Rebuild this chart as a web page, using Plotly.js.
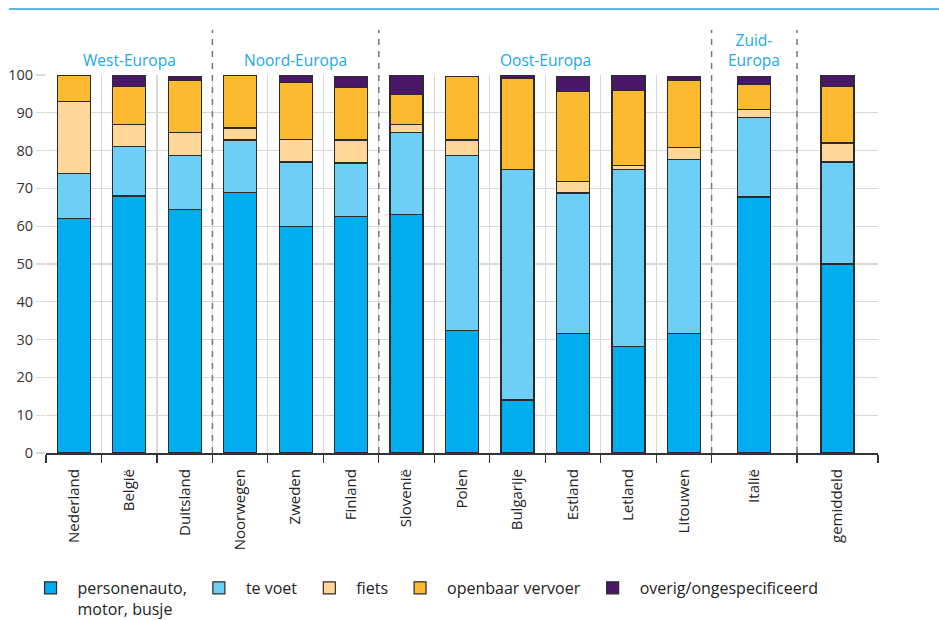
<!DOCTYPE html>
<html>
<head>
<meta charset="utf-8">
<script src="https://cdn.plot.ly/plotly-3.0.1.min.js"></script>
<style>html,body{margin:0;padding:0;background:#fff}#chart{width:939px;height:620px}</style>
</head>
<body>
<div id="chart"></div>
<script>
// ---- data ----
const countries = ['Nederland','België','Duitsland','Noorwegen','Zweden','Finland','Slovenië','Polen','Bulgarije','Estland','Letland','Litouwen','Italië','gemiddeld'];
const auto   = [62, 68, 64.5, 69, 60, 62.6, 63, 32.5, 14, 31.7, 28.1, 31.7, 67.7, 50];
const voet   = [12, 13, 14.3, 13.8, 17, 14.1, 21.8, 46.3, 61, 37.1, 46.8, 46, 21, 27];
const fiets  = [19, 6, 5.9, 3.2, 6, 6.1, 2.2, 4, 0, 3, 1.1, 3.1, 2.1, 5];
const ov     = [7, 10, 13.9, 14, 15, 13.8, 7.8, 16.8, 24, 23.8, 19.9, 17.8, 6.8, 15];
const overig = [0, 3, 1.1, 0, 2, 3.1, 5.2, 0, 1, 4.1, 4.1, 1.1, 2.1, 3];
const seriesNames = ['personenauto,<br>motor, busje','te voet','fiets','openbaar vervoer','overig/ongespecificeerd'];
const regions = ['West-Europa','Noord-Europa','Oost-Europa','Zuid-<br>Europa'];
const regionSizes = [3, 3, 6, 1];

// ---- layout helpers (slot widths along the x axis) ----
const slotWidths = [1,1,1,1,1,1,1,1,1,1,1,1,1.54,1.46];
const bounds = [-0.5];
slotWidths.forEach(w => bounds.push(bounds[bounds.length-1] + w));
const centers = slotWidths.map((w,i) => (bounds[i] + bounds[i+1]) / 2);

const colors = ['#00adee','#6dcff6','#ffd899','#fbba2f','#4a1668'];
const series = [auto, voet, fiets, ov, overig];

const traces = series.map((vals, k) => ({
  type: 'bar', x: centers, y: vals, name: seriesNames[k],
  width: 0.595,
  marker: {color: colors[k], line: {color: '#2b2b2b', width: 1.2}},
  hoverinfo: 'y+name'
}));
// invisible helper trace carrying the category labels axis
traces.push({type:'scatter', x: centers, y: centers.map(()=>0), xaxis:'x2', mode:'none', showlegend:false, hoverinfo:'skip'});

// separators and region labels
const shapes = [{type:'line', xref:'paper', yref:'paper', x0:-0.0445, x1:1.08, y0:1.1746, y1:1.1746, line:{color:'#62b5e5', width:2}}];
const annotations = [];
let start = 0;
regions.forEach((r, gi) => {
  const end = start + regionSizes[gi];
  const cx = (bounds[start] + bounds[end]) / 2;
  annotations.push({xref:'x', yref:'paper', x: cx, y: 1.006, yanchor:'bottom', xanchor:'center', showarrow:false,
    text: r, font:{family:'Open Sans, Noto Sans, sans-serif', size:15.5, color:'#1da8e6'}});
  if (end < bounds.length - 1) {
    shapes.push({type:'line', xref:'x', yref:'paper', x0: bounds[end], x1: bounds[end], y0: 0, y1: 1.119,
      line:{color:'#777', width:1.5, dash:'6px,6px'}});
  }
  start = end;
});

const layout = {
  width: 939, height: 620,
  margin: {l:46, r:61, t:75, b:167, autoexpand:false},
  barmode: 'stack',
  paper_bgcolor: '#fff', plot_bgcolor: '#fff',
  font: {family: 'Open Sans, Noto Sans, sans-serif', color: '#222', size: 14},
  xaxis: {range:[bounds[0], bounds[bounds.length-1]], tickvals: bounds, ticktext: bounds.map(()=>''), automargin:false,
    showgrid:true, gridcolor:'#d9d9d9', gridwidth:1.2, ticks:'outside', ticklen:8, tickcolor:'#333', tickwidth:1.2,
    showline:true, linecolor:'#333', linewidth:1.5, zeroline:false, fixedrange:true},
  xaxis2: {overlaying:'x', anchor:'y', side:'bottom', range:[bounds[0], bounds[bounds.length-1]], tickvals: centers, ticktext: countries,
    automargin:false, tickangle:-90, showgrid:false, ticks:'', ticklabelstandoff: 12, zeroline:false, showline:false,
    tickfont:{family:'Open Sans, Noto Sans, sans-serif', size:15, color:'#222'}},
  yaxis: {range:[0,100], dtick:10, tick0:0, showgrid:true, gridcolor:'#d9d9d9', gridwidth:1.2, zeroline:false, automargin:false,
    ticks:'outside', ticklen:9, tickcolor:'#d9d9d9', tickwidth:1.2,
    tickfont:{family:'Open Sans, Noto Sans, sans-serif', size:14.5, color:'#333'}},
  showlegend: true,
  legend: {orientation:'h', x:-0.027, y:-0.312, xanchor:'left', yanchor:'top', valign:'top', traceorder:'normal', itemwidth:44,
    font:{family:'Open Sans, sans-serif', size:16, color:'#222'}},
  shapes: shapes,
  annotations: annotations
};

Plotly.newPlot('chart', traces, layout, {displayModeBar:false, staticPlot:true});
</script>
</body>
</html>
